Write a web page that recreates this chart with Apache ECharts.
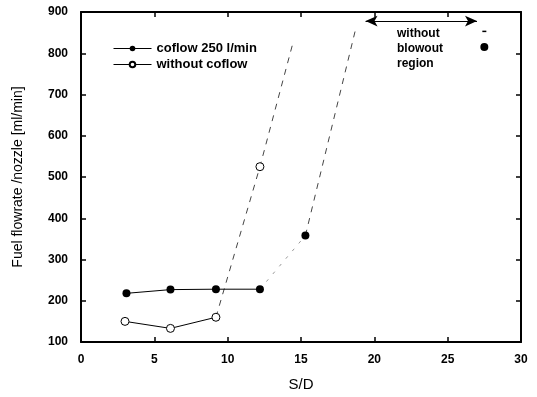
<!DOCTYPE html>
<html><head><meta charset="utf-8">
<script src="https://cdn.jsdelivr.net/npm/echarts@6/dist/echarts.min.js"></script>
<style>html,body{margin:0;padding:0;background:#fff}#c{width:537px;height:397px}</style>
</head><body><div id="c"></div>
<script>
const coflowX = [3.1, 6.1, 9.2, 12.2];
const coflowY = [218, 227, 228, 228];
const noCoflowX = [3.0, 6.1, 9.2];
const noCoflowY = [150, 133, 160];
const noCoflowPoint2X = [12.2];
const noCoflowPoint2Y = [525];
const noCoflowTrendX = [9.2, 12.2, 14.45];
const noCoflowTrendY = [160, 525, 825];
const coflowDotX = [12.2, 15.3];
const coflowDotY = [228, 358];
const coflowPoint2X = [15.3];
const coflowPoint2Y = [358];
const coflowTrendX = [15.3, 18.7];
const coflowTrendY = [358, 855];
const isolatedX = [27.5];
const isolatedY = [815];
const arrowX = [19.4, 27.0];
const arrowY = 878;
const xTicks = [0, 5, 10, 15, 20, 25, 30];
const yTicks = [100, 200, 300, 400, 500, 600, 700, 800, 900];

const zip = (xs, ys) => xs.map((x, i) => [x, ys[i]]);
const font = 'Liberation Sans, Arial, sans-serif';
const chart = echarts.init(document.getElementById('c'));
const axisCommon = {
  axisLine: {show: true, onZero: false, lineStyle: {color: '#000', width: 2}},
  axisTick: {show: true, inside: true, length: 5, lineStyle: {color: '#000', width: 1.5}},
  splitLine: {show: false}
};
chart.setOption({
  animation: false,
  grid: {left: 81, right: 16, top: 12, bottom: 54},
  legend: {
    left: 108, top: 37, orient: 'vertical', itemGap: 3, itemWidth: 38, itemHeight: 7,
    lineStyle: {width: 1},
    textStyle: {fontFamily: font, fontSize: 13, color: '#000', fontWeight: 'bold'},
    data: ['coflow 250 l/min', 'without coflow']
  },
  xAxis: [{
    type: 'value', min: 0, max: 30, interval: 5, position: 'bottom',
    name: 'S/D', nameLocation: 'middle', nameGap: 35,
    nameTextStyle: {fontFamily: font, fontSize: 15, color: '#000'},
    axisLabel: {fontFamily: font, fontSize: 12, color: '#000', fontWeight: 'bold', margin: 12},
    ...axisCommon
  }, {
    type: 'value', min: 0, max: 30, interval: 5, position: 'top',
    axisLabel: {show: false}, ...axisCommon
  }],
  yAxis: [{
    type: 'value', min: 100, max: 900, interval: 100, position: 'left',
    name: 'Fuel flowrate /nozzle [ml/min]', nameLocation: 'middle', nameGap: 56,
    nameTextStyle: {fontFamily: font, fontSize: 14, color: '#000'},
    axisLabel: {fontFamily: font, fontSize: 12, color: '#000', fontWeight: 'bold', margin: 13},
    ...axisCommon
  }, {
    type: 'value', min: 100, max: 900, interval: 100, position: 'right',
    axisLabel: {show: false}, ...axisCommon
  }],
  graphic: [{
    type: 'text', left: 397, top: 26,
    style: {text: 'without\nblowout\nregion', font: 'bold 12px ' + font, fill: '#000', lineHeight: 15}
  }],
  series: [
    {name: 'coflow 250 l/min', type: 'line', data: zip(coflowX, coflowY),
     symbol: 'circle', symbolSize: 8, itemStyle: {color: '#000'},
     lineStyle: {color: '#000', width: 1}, z: 3},
    {name: 'without coflow', type: 'line', data: zip(noCoflowX, noCoflowY),
     symbol: 'circle', symbolSize: 8, itemStyle: {color: '#fff', borderColor: '#000', borderWidth: 1},
     lineStyle: {color: '#000', width: 1}, z: 3},
    {name: 'noTrend', type: 'line', data: zip(noCoflowTrendX, noCoflowTrendY), symbol: 'none',
     lineStyle: {color: '#444', width: 1, type: [6, 6]}, z: 1},
    {name: 'noPt2', type: 'scatter', data: zip(noCoflowPoint2X, noCoflowPoint2Y),
     symbol: 'circle', symbolSize: 8,
     itemStyle: {color: '#fff', borderColor: '#000', borderWidth: 1, opacity: 1}, z: 3},
    {name: 'coDot', type: 'line', data: zip(coflowDotX, coflowDotY), symbol: 'none',
     lineStyle: {color: '#999', width: 1, type: [3, 7]}, z: 1},
    {name: 'coTrend', type: 'line', data: zip(coflowTrendX, coflowTrendY), symbol: 'none',
     lineStyle: {color: '#444', width: 1, type: [6, 6]}, z: 1},
    {name: 'co2', type: 'scatter', data: zip(coflowPoint2X, coflowPoint2Y),
     symbol: 'circle', symbolSize: 8, itemStyle: {color: '#000', opacity: 1}, z: 3},
    {name: 'iso', type: 'scatter', data: zip(isolatedX, isolatedY),
     symbol: 'circle', symbolSize: 8, itemStyle: {color: '#000', opacity: 1},
     markPoint: {symbol: 'rect', symbolSize: [4, 1.5], itemStyle: {color: '#000'},
       label: {show: false}, data: [{coord: [isolatedX[0], isolatedY[0] + 38]}]}},
    {name: 'arrow', type: 'line', data: [], symbol: 'none',
     markLine: {symbol: ['arrow', 'arrow'], symbolSize: [8, 12], silent: true,
       label: {show: false}, lineStyle: {color: '#000', width: 1.2, type: 'solid'},
       data: [[{coord: [arrowX[0], arrowY]}, {coord: [arrowX[1], arrowY]}]]}}
  ]
});
</script></body></html>
